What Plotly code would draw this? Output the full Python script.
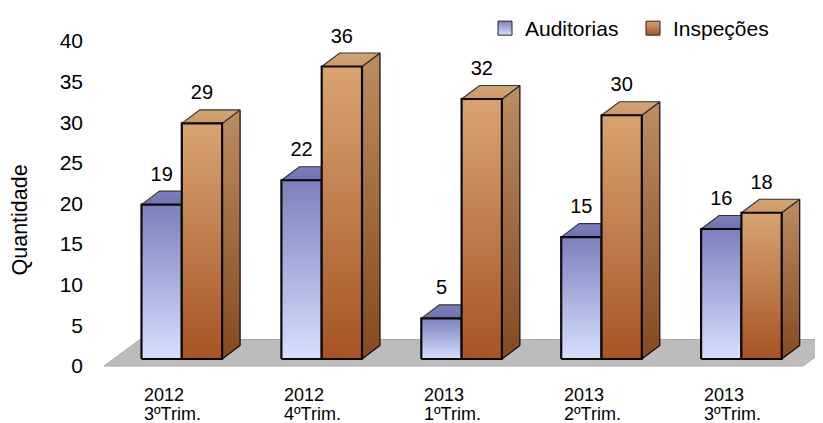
import plotly.graph_objects as go

years = ["2012", "2012", "2013", "2013", "2013"]
trims = ["3ºTrim.", "4ºTrim.", "1ºTrim.", "2ºTrim.", "3ºTrim."]
auditorias = [19, 22, 5, 15, 16]
inspecoes = [29, 36, 32, 30, 18]
y_ticks = [0, 5, 10, 15, 20, 25, 30, 35, 40]

FONT = "Liberation Sans, Arial, sans-serif"
PAGE = 8                # the page's own margin round the figure
PX_X = 139.9            # pixels per category
PX_Y = 8.125            # pixels per unit
X0 = (104 - 141.5) / PX_X
X1 = (823 - 141.5) / PX_X
BAR_W = 40.3 / PX_X
DX = 18 / PX_X          # 3D depth
DY = 13.5 / PX_Y
BASE = 7 / PX_Y         # bars stand on the floor, above the front edge

STYLE = {
    "Auditorias": dict(front=["#d6e0ff", "#7c80bd"], side=["#5f6296", "#8a8dc4"], top=["#6f72ae", "#7c80bb"], off=0),
    "Inspeções": dict(front=["#a75424", "#d8a472"], side=["#844a20", "#bb8d62"], top=["#cc9a68", "#d3a574"], off=1),
}

fig = go.Figure()


def face(xs, ys, stops, lw, lc="#0a0a0a"):
    fig.add_trace(go.Scatter(
        x=xs + xs[:1], y=ys + ys[:1], mode="lines", fill="toself",
        fillgradient=dict(type="vertical", colorscale=[[0, stops[0]], [1, stops[1]]]),
        line=dict(color=lc, width=lw), hoverinfo="skip", showlegend=False,
    ))


# floor
fx0, fx1 = X0, (803 - 141.5) / PX_X
fdx = 36 / PX_X
ftop = 26.5 / PX_Y
fig.add_trace(go.Scatter(
    x=[fx0, fx1, fx1 + fdx, fx0 + fdx, fx0], y=[0, 0, ftop, ftop, 0],
    mode="lines", fill="toself", fillcolor="#bcbcbc",
    line=dict(color="#a8a8a8", width=1), hoverinfo="skip", showlegend=False,
))

# bars
for i in range(len(years)):
    for name, vals in (("Auditorias", auditorias), ("Inspeções", inspecoes)):
        s = STYLE[name]
        l = i + s["off"] * BAR_W
        r = l + BAR_W
        t = vals[i] + BASE
        face([r, r + DX, r + DX, r], [BASE, BASE + DY, t + DY, t], s["side"], 1.2)
        face([l, r, r + DX, l + DX], [t, t, t + DY, t + DY], s["top"], 1.2, "#333333")
        face([l, r, r, l], [BASE, BASE, t, t], s["front"], 2.2)

# value labels
label_x, label_y, label_t = [], [], []
for i in range(len(years)):
    for off, vals in ((0, auditorias), (1, inspecoes)):
        label_x.append(i + (off + 0.5) * BAR_W)
        label_y.append(vals[i] + BASE + 29 / PX_Y)
        label_t.append(str(vals[i]))
fig.add_trace(go.Scatter(
    x=label_x, y=label_y, text=label_t, mode="text", textposition="middle center",
    textfont=dict(family=FONT, size=20, color="#000000"), hoverinfo="skip", showlegend=False,
))

# legend keys
for name in ("Auditorias", "Inspeções"):
    s = STYLE[name]
    fig.add_trace(go.Scatter(
        x=[None], y=[None], mode="markers", name=name,
        marker=dict(symbol="square", size=14, color=s["front"][1],
                    gradient=dict(type="vertical", color=s["front"][0]),
                    line=dict(color="#222222", width=1)),
    ))

annotations = []
for i in range(len(years)):
    for txt, py in ((years[i], 395), (trims[i], 413.5)):
        annotations.append(dict(
            x=i + 1.5 / PX_X, y=(366 - py) / PX_Y, xref="x", yref="y", text=txt, showarrow=False,
            xanchor="left", yanchor="middle", align="left", borderpad=0,
            font=dict(family=FONT, size=18, color="#000000"),
        ))
# axis title, centred a little below the middle of the plot as in the original
annotations.append(dict(
    x=(19 - 104) / 719, y=1 - (220.5 - PAGE) / (423 - PAGE), xref="paper", yref="paper",
    text="Quantidade", textangle=-90, showarrow=False, xanchor="center", yanchor="middle", borderpad=0,
    font=dict(family=FONT, size=21.5, color="#000000"),
))

fig.update_layout(
    width=823 - PAGE, height=423 - PAGE, autosize=False,
    margin=dict(l=104 - PAGE, r=0, t=0, b=0),
    paper_bgcolor="white", plot_bgcolor="white",
    showlegend=True,
    legend=dict(orientation="h", x=(485 - 104) / 719, y=1.0, xanchor="left", yanchor="top",
                font=dict(family=FONT, size=21, color="#000000"), bgcolor="rgba(0,0,0,0)",
                entrywidth=103, entrywidthmode="pixels", traceorder="normal"),
    xaxis=dict(range=[X0, X1], visible=False, fixedrange=True),
    yaxis=dict(range=[-57 / PX_Y, (366 - PAGE) / PX_Y], tickmode="array", tickvals=y_ticks,
               ticktext=[str(v) for v in y_ticks], showgrid=False, zeroline=False, showline=False,
               ticks="", ticklabelstandoff=20, tickfont=dict(family=FONT, size=21, color="#000000"),
               fixedrange=True),
    annotations=annotations,
)

fig.write_html("out.html", config=dict(displayModeBar=False))
